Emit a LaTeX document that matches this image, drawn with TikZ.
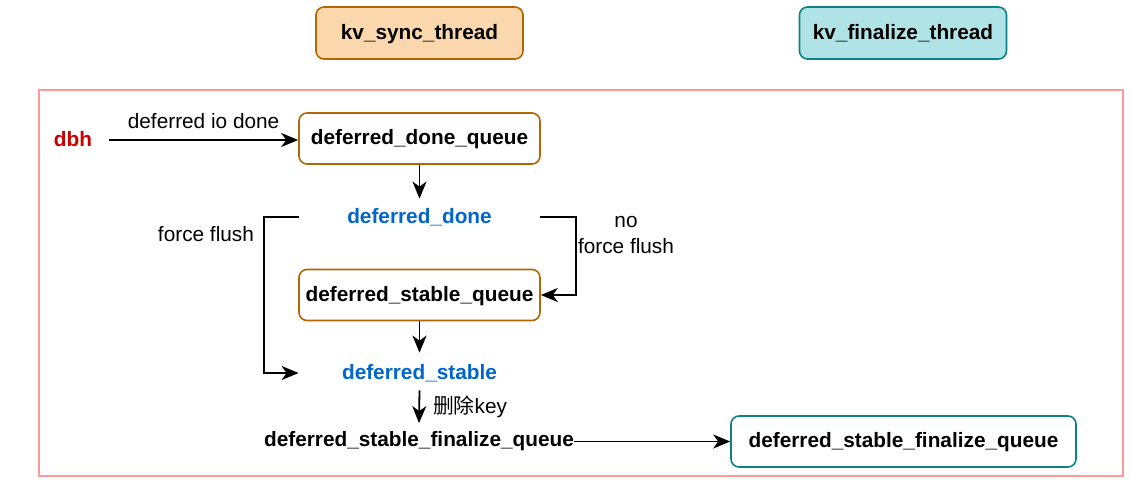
\documentclass[tikz,border=0pt]{standalone}
\usepackage{fontspec}
\setmainfont{Liberation Sans}
\newfontfamily\cjk{Noto Sans CJK SC}
\usetikzlibrary{arrows.meta}
\definecolor{orstroke}{HTML}{B46504}
\definecolor{orfill}{HTML}{FAD7AC}
\definecolor{tlstroke}{HTML}{0E8088}
\definecolor{tlfill}{HTML}{B0E3E6}
\definecolor{frame}{HTML}{FF9999}
\definecolor{bluetxt}{HTML}{0066CC}
\definecolor{redtxt}{HTML}{CC0000}
\tikzset{
  every node/.style={font=\fontsize{10.4}{12.6}\selectfont},
  qbox/.style={draw=orstroke, line width=0.8pt, rounded corners=4pt, minimum width=120.5pt, minimum height=25.5pt, inner sep=0pt, text height=7.6pt, text depth=1.6pt, font=\fontsize{10.4}{12.6}\selectfont\bfseries},
  tbox/.style={rounded corners=4pt, line width=0.8pt, minimum width=103.5pt, minimum height=26pt, inner sep=0pt, text height=7.6pt, text depth=1.6pt, font=\fontsize{10.4}{12.6}\selectfont\bfseries},
  state/.style={text=bluetxt, minimum width=120.5pt, minimum height=12pt, inner sep=0pt, font=\fontsize{10.4}{12.6}\selectfont\bfseries},
  conn/.style={line width=0.9pt, -{Stealth[length=8.5pt,width=7pt,inset=2.5pt]}},
}
\begin{document}
\begin{tikzpicture}[x=0.5pt,y=-0.5pt]
\useasboundingbox (0,0) rectangle (1131,488);
% threads
\node[tbox, draw=orstroke, fill=orfill] (sync) at (419.5,33) {kv\_sync\_thread};
\node[tbox, draw=tlstroke, fill=tlfill] (fin) at (903,33) {kv\_finalize\_thread};
% frame
\draw[frame, line width=0.8pt] (39,90) rectangle (1123,476);
% nodes
\node[text=redtxt, font=\fontsize{10.4}{12.6}\selectfont\bfseries] (dbh) at (73,139) {dbh};
\coordinate (dbhout) at (109,140);
\node[qbox] (ddq) at (419.5,138.5) {deferred\_done\_queue};
\node[state] (dd) at (419.5,217) {deferred\_done};
\node[qbox] (dsq) at (419.5,295) {deferred\_stable\_queue};
\node[state] (ds) at (419.5,373) {deferred\_stable};
\node[font=\fontsize{10.4}{12.6}\selectfont\bfseries, inner sep=0pt, minimum height=12pt] (dsfq) at (419,441.5) {deferred\_stable\_finalize\_queue};
\node[qbox, draw=tlstroke, minimum width=172.5pt] (fq) at (903.5,441.5) {deferred\_stable\_finalize\_queue};
% connectors
\draw[conn] (dbhout) -- (ddq.west |- dbhout) node[midway, above=2pt] {deferred io done};
\draw[conn] (ddq.south) -- ([yshift=3pt]dd.north);
\draw[conn] (dd.west) -- (264,217) -- (264,373) -- (ds.west);
\node[anchor=east] (ff) at (261,234) {force flush};
\draw[conn] (dd.east) -- (576,217) -- (576,295) -- (dsq.east);
\node[align=center] (nff) at (626,235) {no\\force flush};
\draw[conn] (dsq.south) -- ([yshift=4pt]ds.north);
\draw[conn] ([yshift=-2.5pt]ds.south) -- ([yshift=3pt]dsfq.north);
\node[anchor=west] (del) at (426,407) {{\cjk 删除}key};
\draw[conn] (dsfq.east) -- (fq.west);
\end{tikzpicture}
\end{document}
